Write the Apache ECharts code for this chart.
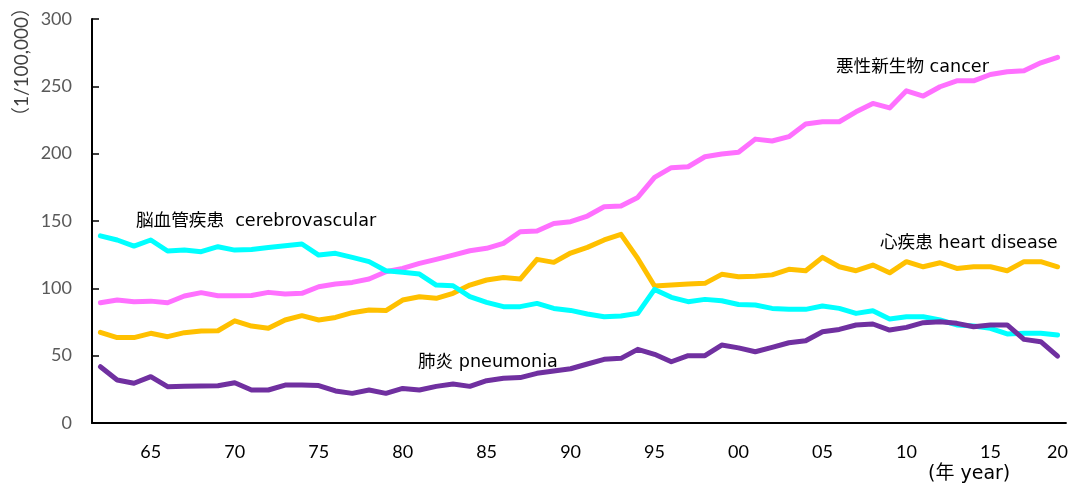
<!DOCTYPE html>
<html>
<head>
<meta charset="utf-8">
<script src="https://cdn.jsdelivr.net/npm/echarts@6/dist/echarts.min.js"></script>
<style>
  html, body { margin: 0; padding: 0; background: #fff; }
  #chart { width: 1071px; height: 490px; }
</style>
</head>
<body>
<div id="chart"></div>
<script>
// 年份 1962 - 2019
const years = [];
for (let y = 1962; y <= 2019; y++) years.push(y);

// 横轴上显示的刻度标签（按图里的样子）
const tickLabels = {
  1965: '65', 1970: '70', 1975: '75', 1980: '80', 1985: '85', 1990: '90',
  1995: '95', 2000: '00', 2005: '05', 2010: '10', 2015: '15', 2019: '20'
};

// 悪性新生物 cancer
const cancer = [
  89.3, 91.3, 90.1, 90.5, 89.3, 94.3, 96.8, 94.5, 94.5, 94.7,
  97.0, 95.8, 96.3, 101.2, 103.2, 104.4, 106.9, 112.3, 114.8, 118.5,
  121.5, 124.7, 127.9, 129.7, 133.4, 142.0, 142.5, 148.2, 149.5, 153.7,
  160.6, 161.1, 167.5, 182.4, 189.6, 190.3, 197.7, 199.7, 201.0, 210.8,
  209.4, 212.6, 222.0, 223.7, 223.7, 231.1, 237.3, 234.0, 246.7, 242.8,
  249.7, 254.1, 254.1, 258.8, 260.8, 261.6, 267.5, 271.5
];

// 心疾患 heart disease
const heart = [
  67.3, 63.4, 63.4, 66.6, 64.1, 67.1, 68.3, 68.5, 75.9, 72.0,
  70.3, 76.5, 79.7, 76.5, 78.4, 81.9, 83.9, 83.5, 91.3, 93.8,
  92.6, 96.3, 102.4, 106.2, 108.1, 106.9, 121.5, 119.3, 126.2, 130.4,
  135.9, 140.1, 122.2, 101.7, 102.4, 103.2, 103.7, 110.4, 108.6, 108.9,
  110.0, 114.1, 113.1, 123.0, 116.0, 113.1, 117.3, 111.5, 119.8, 116.0,
  119.0, 114.8, 116.0, 116.0, 113.1, 119.8, 119.8, 116.0
];

// 脳血管疾患 cerebrovascular
const cerebro = [
  139.0, 135.9, 131.4, 135.9, 127.7, 128.4, 127.2, 130.9, 128.4, 128.9,
  130.4, 131.6, 132.9, 124.7, 126.0, 123.0, 119.8, 113.1, 111.9, 110.6,
  102.4, 101.9, 93.8, 89.6, 86.4, 86.4, 88.8, 85.1, 83.6, 80.9,
  78.9, 79.4, 81.4, 99.2, 93.3, 90.1, 91.8, 90.8, 88.0, 87.6,
  85.1, 84.4, 84.4, 86.9, 85.1, 81.4, 83.4, 77.3, 78.9, 78.9,
  76.5, 72.8, 72.0, 70.3, 66.1, 66.6, 66.6, 65.3
];

// 肺炎 pneumonia
const pneumonia = [
  41.8, 31.9, 29.5, 34.4, 27.0, 27.2, 27.4, 27.7, 29.9, 24.5,
  24.5, 28.2, 28.2, 27.8, 23.8, 22.0, 24.5, 22.0, 25.7, 24.5,
  27.2, 28.9, 27.2, 31.4, 33.2, 33.7, 36.9, 38.6, 40.3, 43.8,
  47.3, 48.0, 54.7, 51.0, 45.5, 50.0, 50.0, 57.9, 55.8, 52.9,
  56.2, 59.6, 61.1, 67.8, 69.5, 72.8, 73.5, 69.0, 71.0, 74.5,
  75.2, 74.0, 71.5, 72.8, 72.8, 62.1, 60.4, 49.7
];

const numFont = 'Lato, "Noto Sans", sans-serif';
const textFont = '"DejaVu Sans", "Noto Sans CJK JP", sans-serif';

function line(name, data, color) {
  return {
    name: name,
    type: 'line',
    data: data,
    symbol: 'none',
    smooth: false,
    lineStyle: { color: color, width: 5, join: 'round', cap: 'round' },
    itemStyle: { color: color }
  };
}

let option = {
  animation: false,
  backgroundColor: '#fff',
  grid: { left: 92, right: 5, top: 19, bottom: 67 },
  xAxis: {
    type: 'category',
    data: years,
    boundaryGap: true,
    axisLine: { lineStyle: { color: '#000', width: 2 } },
    axisTick: { inside: true, length: 6, interval: 0, lineStyle: { color: '#000', width: 1.5 } },
    axisLabel: {
      interval: 0,
      margin: 20,
      color: '#000',
      fontSize: 18,
      fontFamily: numFont,
      formatter: function (v) { return tickLabels[v] || ''; }
    }
  },
  yAxis: {
    type: 'value',
    min: 0,
    max: 300,
    interval: 50,
    splitLine: { show: false },
    axisLine: { show: true, lineStyle: { color: '#000', width: 2 } },
    axisTick: { show: true, inside: true, length: 7, lineStyle: { color: '#000', width: 1.5 } },
    axisLabel: { color: '#595959', fontSize: 18, fontFamily: numFont, margin: 20 }
  },
  graphic: [
    // 纵轴单位
    {
      type: 'text', x: 22, y: 62, rotation: Math.PI / 2,
      style: {
        text: '（1/100,000）', font: '19px ' + numFont + ', "Noto Sans CJK JP"', fill: '#404040',
        textAlign: 'center', textVerticalAlign: 'middle', align: 'center', verticalAlign: 'middle'
      }
    },
    // 横轴单位
    { type: 'text', left: 928, top: 465, style: { text: '(年 year)', font: '19px ' + textFont, fill: '#000' } },
    // 各线的说明
    { type: 'text', left: 136, top: 213, style: { text: '脳血管疾患  cerebrovascular', font: '17.6px ' + textFont, fill: '#000' } },
    { type: 'text', left: 836, top: 59, style: { text: '悪性新生物 cancer', font: '17.6px ' + textFont, fill: '#000' } },
    { type: 'text', left: 880, top: 235, style: { text: '心疾患 heart disease', font: '17.6px ' + textFont, fill: '#000' } },
    { type: 'text', left: 418, top: 354, style: { text: '肺炎 pneumonia', font: '17.6px ' + textFont, fill: '#000' } }
  ],
  series: [
    line('悪性新生物 cancer', cancer, '#FF70FF'),
    line('心疾患 heart disease', heart, '#FFC000'),
    line('脳血管疾患 cerebrovascular', cerebro, '#00FFFF'),
    line('肺炎 pneumonia', pneumonia, '#7030A0')
  ]
};

let chart = echarts.init(document.getElementById('chart'));
chart.setOption(option);
</script>
</body>
</html>
